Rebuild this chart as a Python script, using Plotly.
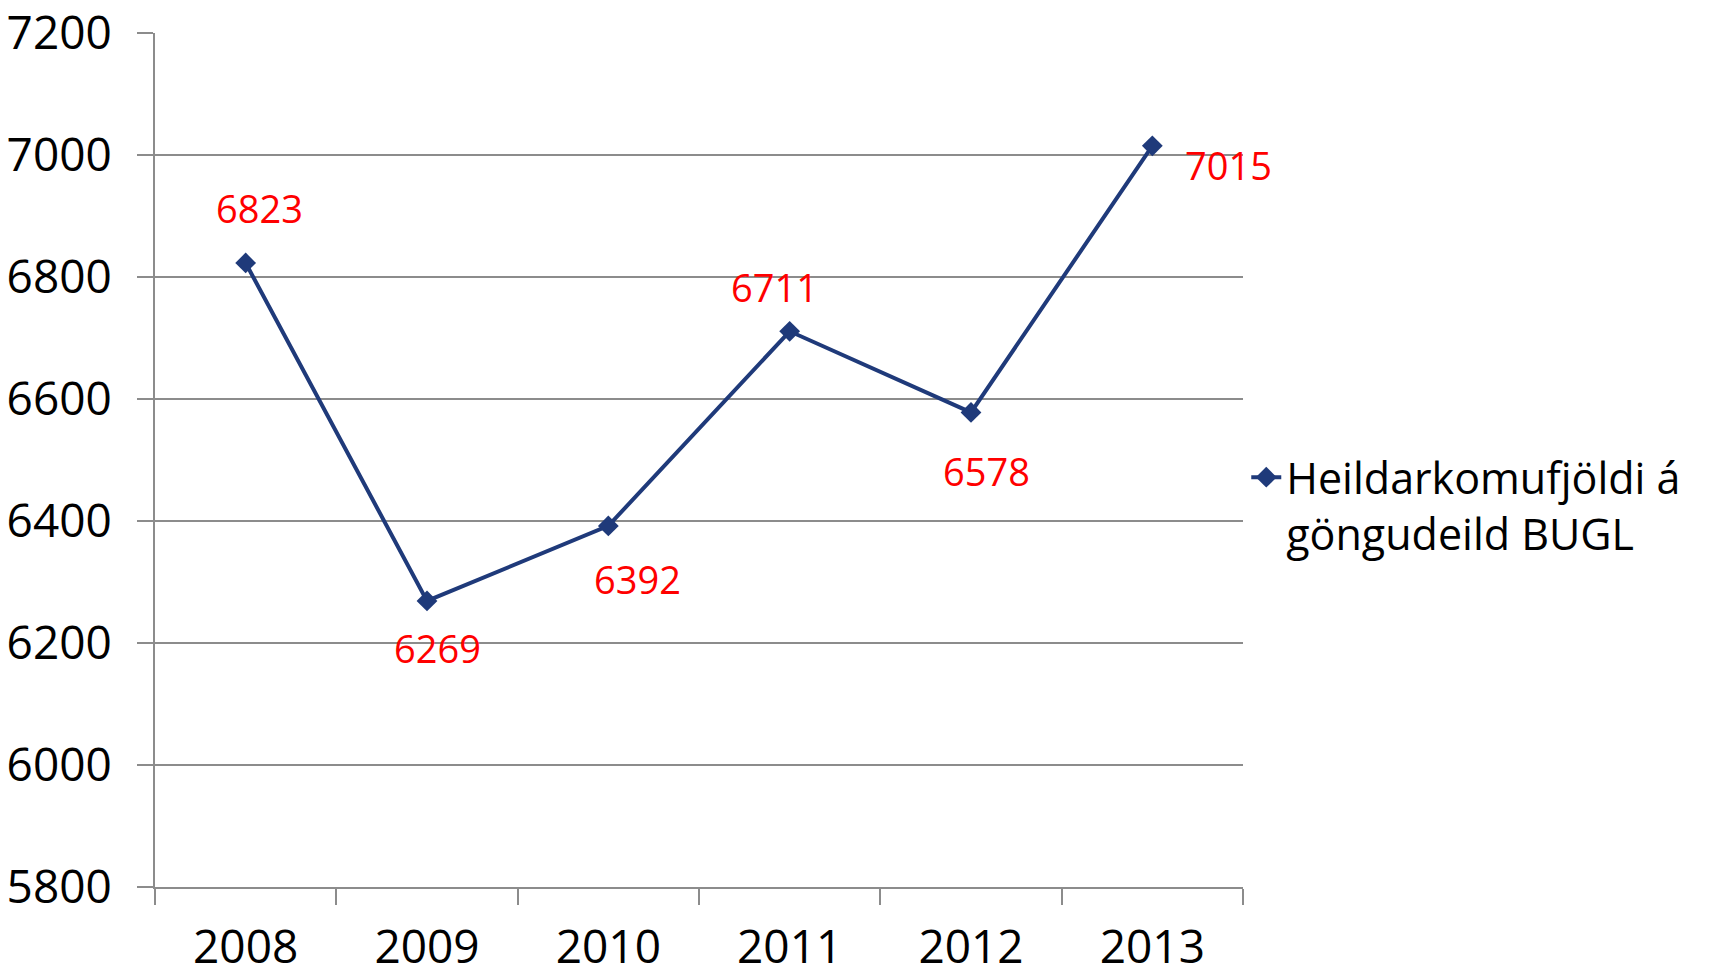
import plotly.graph_objects as go

years = [2008, 2009, 2010, 2011, 2012, 2013]
year_labels = ["2008", "2009", "2010", "2011", "2012", "2013"]
values = [6823, 6269, 6392, 6711, 6578, 7015]
series_name = "Heildarkomufjöldi á<br>göngudeild BUGL"
y_ticks = [5800, 6000, 6200, 6400, 6600, 6800, 7000, 7200]

# label offsets (pixels) relative to each point
label_dx = [14, 10, 29, -15, 15, 76]
label_dy = [55, -47, -53, 44, -59, -19]

FONT = "Open Sans"
NAVY = "#1F3A7A"
GRID = "#8C8C8C"

boundaries = [y - 0.5 for y in years] + [years[-1] + 0.5]

fig = go.Figure()
fig.add_trace(go.Scatter(
    x=years, y=values, name=series_name, mode="lines+markers",
    line=dict(color=NAVY, width=4),
    marker=dict(symbol="diamond", size=16, color=NAVY),
))

for x, v, dx, dy in zip(years, values, label_dx, label_dy):
    fig.add_annotation(x=x, y=v, text=str(v), showarrow=False,
                       xshift=dx, yshift=dy, xanchor="center", yanchor="middle",
                       font=dict(family=FONT, size=38, color="#FF0000"))

fig.update_layout(
    width=1713, height=959,
    margin=dict(l=147, r=478, t=25, b=80, autoexpand=False),
    paper_bgcolor="white", plot_bgcolor="white",
    font=dict(family=FONT, color="black"),
    showlegend=True,
    legend=dict(x=1.003, xanchor="left", y=0.447, yanchor="middle", valign="top",
                font=dict(family=FONT, size=43, color="black"),
                bgcolor="rgba(0,0,0,0)"),
)
fig.update_xaxes(
    range=[years[0] - 0.5, years[-1] + 0.5], tickvals=years, ticktext=year_labels,
    showgrid=False, showline=True, linecolor=GRID, linewidth=2,
    ticks="", automargin=False, ticklabeloverflow="allow",
    minor=dict(tickvals=boundaries, ticks="outside", ticklen=16, tickcolor=GRID, tickwidth=2, showgrid=False),
    tickfont=dict(family=FONT, size=46, color="black"), ticklabelstandoff=19,
    zeroline=False,
)
fig.update_yaxes(
    range=[5800, 7200], tickvals=y_ticks, showgrid=True, gridcolor=GRID, gridwidth=2,
    showline=True, linecolor=GRID, linewidth=2, automargin=False, ticklabeloverflow="allow",
    ticks="outside", ticklen=16, tickcolor=GRID, tickwidth=2,
    tickfont=dict(family=FONT, size=46, color="black"), ticklabelstandoff=16,
    zeroline=False,
)

fig.write_html("out.html")
